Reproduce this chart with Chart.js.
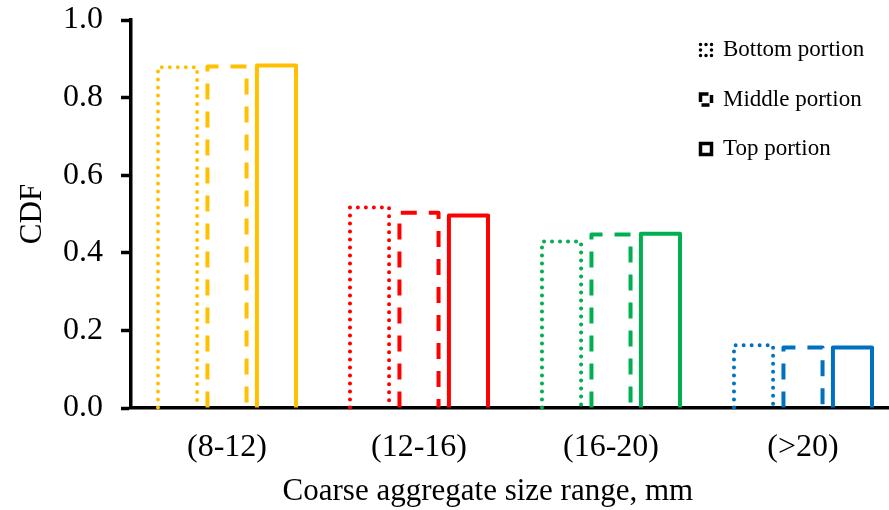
<!DOCTYPE html>
<html>
<head>
<meta charset="utf-8">
<script src="https://cdn.jsdelivr.net/npm/chart.js@4"></script>
<style>
  html, body { margin: 0; padding: 0; background: #fff; overflow: hidden; }
  #wrap { width: 900px; height: 510px; }
</style>
</head>
<body>
<div id="wrap"><canvas id="grafico"></canvas></div>
<script>
// categorias e valores
const categories = ['(8-12)', '(12-16)', '(16-20)', '(>20)'];
const bottomPortion = [0.878, 0.517, 0.429, 0.162];
const middlePortion = [0.880, 0.503, 0.447, 0.156];
const topPortion = [0.883, 0.496, 0.449, 0.156];
const yTicks = [0, 0.2, 0.4, 0.6, 0.8, 1.0];

const groupColors = ['#FFC000', '#FF0000', '#00B050', '#0070C0'];
const serif = "'Liberation Serif', 'Times New Roman', serif";

Chart.defaults.font.family = serif;
Chart.defaults.color = '#000';

// chart.js nao faz borda tracejada em barras, entao o contorno e desenhado aqui
const contorno = {
  id: 'contorno',
  afterDatasetsDraw(chart) {
    const ctx = chart.ctx;
    chart.data.datasets.forEach((ds, i) => {
      const meta = chart.getDatasetMeta(i);
      meta.data.forEach((bar, j) => {
        const { x, y, base, width } = bar.getProps(['x', 'y', 'base', 'width'], true);
        const l = x - width / 2, r = x + width / 2;
        ctx.save();
        ctx.strokeStyle = groupColors[j];
        ctx.lineWidth = 4;
        ctx.setLineDash(ds.dash);
        ctx.lineCap = ds.cap;
        ctx.lineJoin = 'round';
        ctx.beginPath();
        ctx.moveTo(l, base);
        ctx.lineTo(l, y);
        ctx.lineTo(r, y);
        ctx.lineTo(r, base);
        ctx.stroke();
        ctx.restore();
      });
    });
  }
};

// legenda fica dentro da area do grafico, no canto de cima a direita
const posLegenda = {
  id: 'posLegenda',
  afterLayout(chart) {
    const lg = chart.legend;
    if (!lg) return;
    const w = lg.width, h = lg.height;
    lg.left = 674; lg.right = 674 + w;
    lg.top = 12; lg.bottom = 12 + h;
  }
};

const ctx = document.getElementById('grafico');

new Chart(ctx, {
  type: 'bar',
  data: {
    labels: categories,
    datasets: [
      { label: 'Bottom portion', data: bottomPortion, dash: [0, 8], cap: 'round', legDash: [0, 5.5] },
      { label: 'Middle portion', data: middlePortion, dash: [16, 12], cap: 'butt', legDash: [8, 4] },
      { label: 'Top portion', data: topPortion, dash: [], cap: 'butt', legDash: [] }
    ].map(d => Object.assign(d, {
      backgroundColor: 'transparent',
      borderWidth: 0,
      categoryPercentage: 0.773,
      barPercentage: 0.79
    }))
  },
  options: {
    responsive: true,
    maintainAspectRatio: false,
    animation: false,
    layout: { padding: { top: 20, right: 1, left: 0, bottom: 0 } },
    plugins: {
      tooltip: { enabled: false },
      legend: {
        position: 'chartArea',
        align: 'start',
        labels: {
          boxWidth: 11,
          boxHeight: 11,
          padding: 26.5,
          font: { size: 23, family: serif },
          color: '#000',
          generateLabels(chart) {
            return chart.data.datasets.map((ds, i) => ({
              text: ds.label,
              fillStyle: '#fff',
              strokeStyle: '#000',
              lineWidth: 3.5,
              lineDash: ds.legDash,
              lineCap: ds.cap,
              lineJoin: 'miter',
              hidden: false,
              datasetIndex: i
            }));
          }
        }
      }
    },
    scales: {
      x: {
        z: 1,
        grid: { display: false, drawTicks: false },
        border: { display: true, color: '#000', width: 3.5 },
        ticks: { padding: 20, font: { size: 32 }, color: '#000' },
        title: {
          display: true,
          text: 'Coarse aggregate size range, mm       ',
          font: { size: 31 },
          color: '#000',
          padding: { top: 0, bottom: 0 }
        },
        afterFit(s) { s.height = 102; s.paddingLeft = 0; s.paddingRight = 0; }
      },
      y: {
        min: 0,
        max: 1,
        grid: {
          display: true,
          drawOnChartArea: false,
          drawTicks: true,
          tickLength: 10,
          tickWidth: 3.5,
          tickColor: '#000'
        },
        border: { display: true, color: '#000', width: 3.5 },
        afterBuildTicks(s) { s.ticks = yTicks.map(v => ({ value: v })); },
        ticks: {
          padding: 18,
          font: { size: 32 },
          color: '#000',
          callback: v => Number(v).toFixed(1)
        },
        title: {
          display: true,
          text: 'CDF',
          font: { size: 31 },
          color: '#000',
          padding: { top: 14, bottom: 0 }
        },
        afterFit(s) { s.width = 131; s.paddingTop = 0; s.paddingBottom = 0; }
      }
    }
  },
  plugins: [contorno, posLegenda]
});
</script>
</body>
</html>
